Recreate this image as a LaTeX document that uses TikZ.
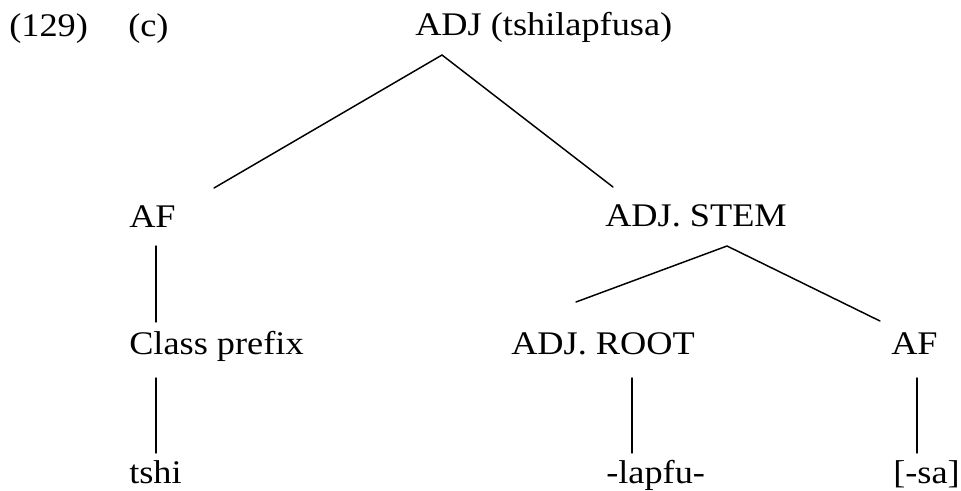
\documentclass[tikz,border=0pt]{standalone}
\usepackage{fontspec}
\setmainfont{Liberation Serif}[FakeStretch=1.1]
\begin{document}
\begin{tikzpicture}[x=0.75pt,y=-0.75pt,
  lbl/.style={anchor=base west, inner sep=0pt, font=\fontsize{24.75}{30}\selectfont},
  branch/.style={line width=1.1pt, line cap=round}]
\useasboundingbox (0,0) rectangle (961,490);
% labels
\node[lbl] (num)  at (9,36)    {(129)};
\node[lbl] (sub)  at (128,36)  {(c)};
\node[lbl] (adj)  at (415,35)  {ADJ (tshilapfusa)};
\node[lbl] (afl)  at (129,227) {AF};
\node[lbl] (stem) at (605,226) {ADJ. STEM};
\node[lbl] (cls)  at (129,354) {Class prefix};
\node[lbl] (root) at (511,354) {ADJ. ROOT};
\node[lbl] (afr)  at (891,354) {AF};
\node[lbl] (tshi) at (129,483) {tshi};
\node[lbl] (lap)  at (606,483) {-lapfu-};
\node[lbl] (sa)   at (893,483) {[-sa]};
% connector end points
\coordinate (adjB)  at (442,55);
\coordinate (aflT)  at (214,188);
\coordinate (stemT) at (613,187);
\coordinate (aflB)  at (156,246);
\coordinate (clsT)  at (156,322);
\coordinate (clsB)  at (156,378);
\coordinate (tshiT) at (156,453);
\coordinate (stemB) at (727,246);
\coordinate (rootT) at (576,302);
\coordinate (afrT)  at (880,321);
\coordinate (rootB) at (632,378);
\coordinate (lapT)  at (632,453);
\coordinate (afrB)  at (917,378);
\coordinate (saT)   at (917,453);
% branches
\draw[branch] (aflT) -- (adjB) -- (stemT);
\draw[branch] (aflB) -- (clsT);
\draw[branch] (clsB) -- (tshiT);
\draw[branch] (rootT) -- (stemB) -- (afrT);
\draw[branch] (rootB) -- (lapT);
\draw[branch] (afrB) -- (saT);
\end{tikzpicture}
\end{document}
